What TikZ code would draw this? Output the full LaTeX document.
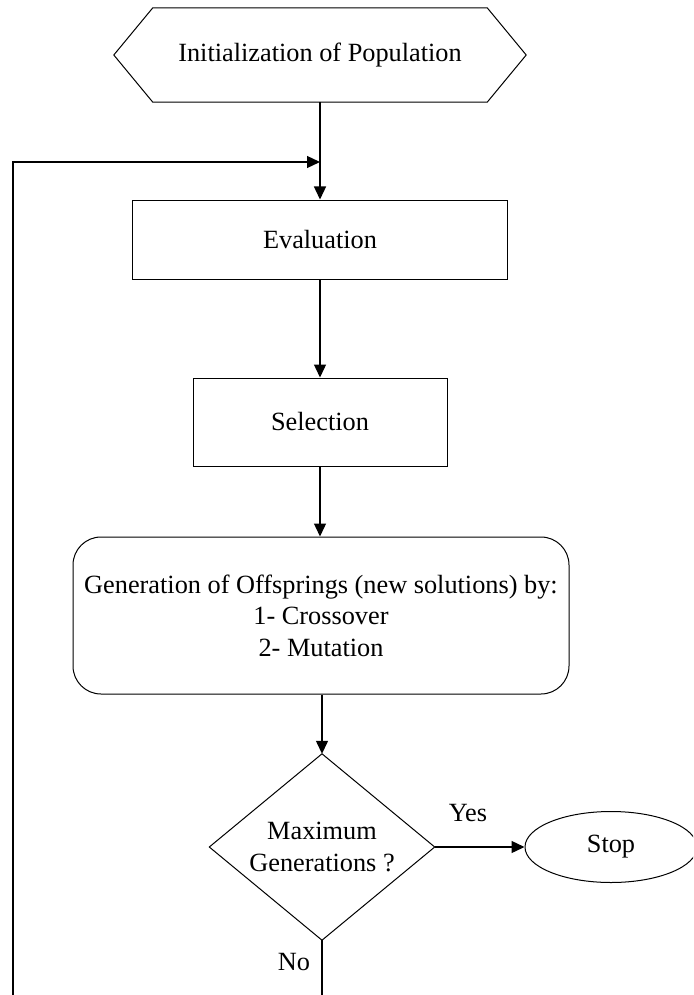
\documentclass[tikz,border=0pt]{standalone}
\usepackage{fontspec}
\setmainfont{Liberation Serif}
\usetikzlibrary{arrows.meta,shapes.geometric,calc}
\begin{document}
\begin{tikzpicture}[x=1pt,y=-1pt,
  every node/.style={font=\fontsize{26.3}{31.5}\selectfont},
  outline/.style={draw, line width=1pt},
  flow/.style={line width=1.3pt, -{Triangle[length=13pt,width=12pt]}},
  procbox/.style={outline, rectangle, inner sep=0pt},
  area/.style={inner sep=0pt, align=center},
]
\useasboundingbox (0,0) rectangle (693,995);
\clip (0,0) rectangle (693,995);

% start: hexagonal preparation box
\node[area, minimum width=334pt, minimum height=94pt] (init) at (320,55)
  {Initialization of Population};
\draw[outline] (init.north west) -- (init.north east) -- ($(init.east)+(39,0)$)
  -- (init.south east) -- (init.south west) -- ($(init.west)+(-39,0)$) -- cycle;

% process steps
\node[procbox, minimum width=375pt, minimum height=79pt] (eval) at (320,239.5) {Evaluation};
\node[procbox, minimum width=254pt, minimum height=88pt] (sel) at (320,422) {Selection};
\node[procbox, rounded corners=28pt, minimum width=496pt, minimum height=157pt,
      align=center] (gen) at (321,615.5)
  {Generation of Offsprings (new solutions) by:\\1- Crossover\\2- Mutation};

% decision: a diamond spanning the node's box
\node[area, minimum width=225pt, minimum height=186pt] (dia) at (322,847)
  {Maximum\\Generations ?};
\draw[outline] (dia.north) -- (dia.east) -- (dia.south) -- (dia.west) -- cycle;

% terminal
\node[outline, ellipse, inner sep=0pt, minimum width=172pt, minimum height=71pt]
  (stop) at (611,847) {Stop};

% branch labels
\node (yes) at (468,813) {Yes};
\node (no) at (294,962) {No};

% connectors
\draw[flow] (init.south) -- (eval.north);
\draw[flow] (eval.south) -- (sel.north);
\draw[flow] (sel.south) -- (sel.south |- gen.north);
\draw[flow] (gen.south -| dia.north) -- (dia.north);
\draw[flow] (dia.east) -- (stop.west);

% loop back from the "No" branch
\coordinate (join) at (init.south |- 0,162);
\coordinate (loopcorner) at (13,1010);
\draw[flow] (dia.south) |- (loopcorner) |- (join);
\end{tikzpicture}
\end{document}
